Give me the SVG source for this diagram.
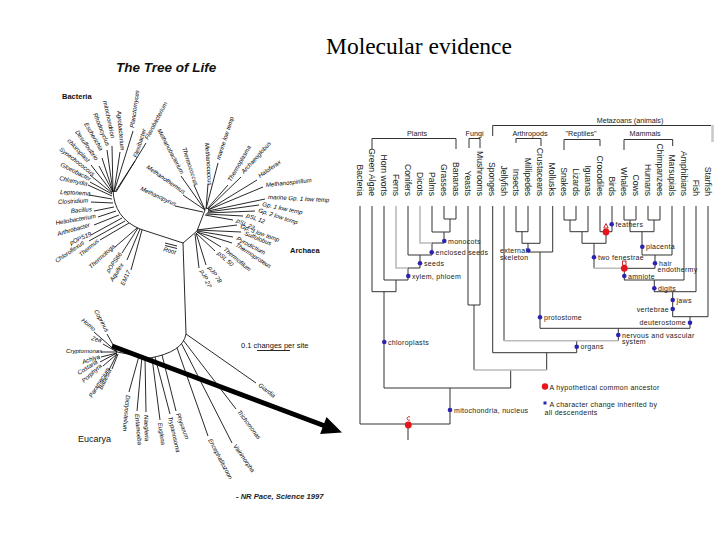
<svg xmlns="http://www.w3.org/2000/svg" width="720" height="540" viewBox="0 0 720 540">
<defs>
<style>
.ttl{font-family:"Liberation Serif","Times New Roman",serif;font-size:23.5px;fill:#000}
.lt{font-family:"Liberation Sans",Arial,sans-serif;font-size:6.1px;font-style:italic;fill:#000}
.lb{font-family:"Liberation Sans",Arial,sans-serif;font-size:7.5px;font-weight:bold;fill:#111}
.tl{stroke:#111;stroke-width:0.9;fill:none}
.cl{font-family:"Liberation Sans",Arial,sans-serif;font-size:8.6px;fill:#222;text-anchor:end}
.hd{font-family:"Liberation Sans",Arial,sans-serif;font-size:7.2px;fill:#222;text-anchor:middle}
.nl{font-family:"Liberation Sans",Arial,sans-serif;font-size:7px;fill:#222;letter-spacing:0.3px}
.k{stroke:#333;stroke-width:1;fill:none}
.g{stroke:#bbb;stroke-width:1.6;fill:none}
.bd{fill:#2a24b0}
.rd{fill:#e8141c}
</style>
</defs>
<rect width="720" height="540" fill="#fff"/>
<text x="419" y="54" text-anchor="middle" class="ttl">Molecular evidence</text>

<g id="tree-of-life">
<text x="116" y="72" font-family="Liberation Sans, Arial, sans-serif" font-size="13.5" font-weight="bold" font-style="italic" fill="#111">The Tree of Life</text>
<text x="62" y="99" class="lb">Bacteria</text>
<text x="290" y="253" class="lb">Archaea</text>
<text x="78" y="442" font-family="Liberation Sans, Arial, sans-serif" font-size="9" fill="#111">Eucarya</text>
<text x="241" y="348" font-family="Liberation Sans, Arial, sans-serif" font-size="7.5" fill="#111">0.1 changes per site</text>
<path d="M257,350.5 H290" class="tl"/>
<text x="236" y="499" font-family="Liberation Sans, Arial, sans-serif" font-size="7.6" font-style="italic" font-weight="bold" fill="#222">- NR Pace, Science 1997</text>

<path class="tl" d="M113,190 Q114,218 140,229 L183,243
M112,146 L113,192 M107,150 L113,192 M102,158 L113,192 M99,166 L113,192 M91,165 L112,192 M90,175 L112,193 M90,182 L112,194 M88,185 L112,196 M89,195 L112,199 M91,202 L113,203 M94,211 L114,207 M98,217 L116,211 M94,225 L119,215 M91,235 L122,218 M89,241 L125,221 M100,240 L129,223 M115,247 L137,228 M122,253 L138,228 M127,260 L140,229 M131,270 L142,230 M120,152 L114,192 M133,131 L114,192 M135,161 L115,192 M146,143 L116,192"/>
<text class="lt" transform="translate(103,101) rotate(78)">mitochondrion</text>
<text class="lt" transform="translate(93,114) rotate(68)">Rhodocyclus</text>
<text class="lt" transform="translate(84,124) rotate(60)">Escherichia</text>
<text class="lt" transform="translate(75,132) rotate(55)">Desulfovibrio</text>
<text class="lt" transform="translate(67,141) rotate(47)">chloroplast</text>
<text class="lt" transform="translate(59,150) rotate(38)">Synechococcus</text>
<text class="lt" transform="translate(60,166) rotate(27)">Gloeobacter</text>
<text class="lt" transform="translate(59,180) rotate(12)">Chlamydia</text>
<text class="lt" transform="translate(60,194) rotate(3)">Leptonema</text>
<text class="lt" transform="translate(58,204) rotate(-3)">Clostridium</text>
<text class="lt" transform="translate(71,213) rotate(-5)">Bacillus</text>
<text class="lt" transform="translate(56,225) rotate(-10)">Heliobacterium</text>
<text class="lt" transform="translate(58,236) rotate(-16)">Arthrobacter</text>
<text class="lt" transform="translate(71,245) rotate(-25)">pOPS19</text>
<text class="lt" transform="translate(57,263) rotate(-35)">Chloroflexus</text>
<text class="lt" transform="translate(81,257) rotate(-40)">Thermus</text>
<text class="lt" transform="translate(91,269) rotate(-42)">Thermotoga</text>
<text class="lt" transform="translate(109,273) rotate(-55)">pOPS66</text>
<text class="lt" transform="translate(113,282) rotate(-58)">Aquifex</text>
<text class="lt" transform="translate(124,286) rotate(-65)">EM17</text>
<text class="lt" transform="translate(117,111) rotate(85)">Agrobacterium</text>
<text class="lt" transform="translate(134,128) rotate(-82)">Planctomyces</text>
<text class="lt" transform="translate(137,158) rotate(-72)">Flexibacter</text>
<text class="lt" transform="translate(148,140) rotate(-62)">Flavobacterium</text>

<path class="tl" d="M183,243 L197,231 L205,210
M181,176 L205,210 M194,185 L205,210 M208,184 L206,209 M218,163 L206,209 M228,185 L207,209 M241,177 L208,209 M257,180 L208,210 M263,187 L208,210 M265,199 L208,211 M259,205 L208,212 M255,211 L207,213 M243,216 L206,214 M233,220 L205,215 M183,195 L205,210 M175,206 L203,212
M237,225 L197,230 M241,232 L197,230 M233,237 L197,231 M232,243 L197,232 M221,247 L197,232 M215,251 L196,233 M206,265 L196,233 M199,268 L195,234
M165,243 L177,246 M165,245.5 L177,248.5"/>
<text class="lt" transform="translate(157,130) rotate(62)">Methanobacterium</text>
<text class="lt" transform="translate(182,148) rotate(72)">Thermococcus</text>
<text class="lt" transform="translate(205,143) rotate(86)">Methanococcus</text>
<text class="lt" transform="translate(220,160) rotate(-72)">marine low temp</text>
<text class="lt" transform="translate(231,182) rotate(-60)">Thermoplasma</text>
<text class="lt" transform="translate(244,174) rotate(-48)">Archaeoglobus</text>
<text class="lt" transform="translate(260,178) rotate(-35)">Haloferax</text>
<text class="lt" transform="translate(266,187) rotate(-6)">Methanospirillum</text>
<text class="lt" transform="translate(268,199) rotate(3)">marine Gp. 1 low temp</text>
<text class="lt" transform="translate(262,206) rotate(12)">Gp. 1 low temp</text>
<text class="lt" transform="translate(258,212) rotate(18)">Gp. 2 low temp</text>
<text class="lt" transform="translate(246,217) rotate(20)">pSL 12</text>
<text class="lt" transform="translate(236,222) rotate(25)">pSL 22</text>
<text class="lt" transform="translate(240,228) rotate(20)">Gp. 3 low temp</text>
<text class="lt" transform="translate(244,235) rotate(22)">Sulfolobus</text>
<text class="lt" transform="translate(236,240) rotate(28)">Pyrodictium</text>
<text class="lt" transform="translate(235,246) rotate(33)">Thermoproteus</text>
<text class="lt" transform="translate(223,250) rotate(40)">Thermofilum</text>
<text class="lt" transform="translate(217,254) rotate(42)">pSL 50</text>
<text class="lt" transform="translate(208,268) rotate(55)">pJP 78</text>
<text class="lt" transform="translate(200,271) rotate(65)">pJP 27</text>
<text class="lt" transform="translate(146,168) rotate(35)">Methanothermus</text>
<text class="lt" transform="translate(140,190) rotate(25)">Methanopyrus</text>
<text class="lt" transform="translate(163,251) rotate(15)">Root</text>

<path class="tl" d="M183,243 L186,334 L256,383 M186,334 Q183,352 150,358 L117,352
M107,334 L117,352 M94,332 L117,352 M103,344 L117,352 M101,352 L117,352 M101,357 L117,353 M100,362 L117,353 M103,366 L117,354 M109,370 L117,354 M112,369 L118,354
M139,356 L129,392 M142,356.5 L137,411 M145,357 L146,412 M152,357.5 L160,420 M155,357 L170,414 M162,355 L176,411 M177,347.8 L208,436 M181.5,343.7 L232,443 M183.6,340.7 L236,409"/>
<text class="lt" transform="translate(94,311) rotate(62)">Coprinus</text>
<text class="lt" transform="translate(81,321) rotate(40)">Homo</text>
<text class="lt" transform="translate(91,340) rotate(15)">Zea</text>
<text class="lt" transform="translate(66,353)">Cryptomonas</text>
<text class="lt" transform="translate(83,364) rotate(-18)">Achlya</text>
<text class="lt" transform="translate(79,375) rotate(-32)">Costaria</text>
<text class="lt" transform="translate(84,383) rotate(-42)">Porphyra</text>
<text class="lt" transform="translate(92,398) rotate(-58)">Paramecium</text>
<text class="lt" transform="translate(102,390) rotate(-64)">Babesia</text>
<text class="lt" transform="translate(126,395) rotate(95)">Dictyostelium</text>
<text class="lt" transform="translate(135,414) rotate(85)">Entamoeba</text>
<text class="lt" transform="translate(144,415) rotate(88)">Naegleria</text>
<text class="lt" transform="translate(158,423) rotate(82)">Euglena</text>
<text class="lt" transform="translate(168,417) rotate(77)">Trypanosoma</text>
<text class="lt" transform="translate(176,414) rotate(70)">Physarum</text>
<text class="lt" transform="translate(208,440) rotate(62)">Encephalitozoon</text>
<text class="lt" transform="translate(233,446) rotate(55)">Vairimorpha</text>
<text class="lt" transform="translate(237,412) rotate(53)">Trichomonas</text>
<text class="lt" transform="translate(258,386) rotate(38)">Giardia</text>
</g>

<g id="cladogram">
<g id="headers">
<text x="417" y="136" class="hd">Plants</text>
<text x="474.5" y="136" class="hd">Fungi</text>
<text x="630" y="122.5" class="hd">Metazoans (animals)</text>
<text x="530" y="136" class="hd" font-size="6.6">Arthropods</text>
<text x="581" y="136" class="hd" font-size="6.6">"Reptiles"</text>
<text x="645" y="136" class="hd" font-size="6.6">Mammals</text>
<path class="k" d="M372,149 V138.5 H456 V149 M469,148 V138.5 H480 V148 M492.7,136 V125.5 H711 M516,143 V138.5 H541 V146 M564,150 V139.5 H600 V146 M624,150 V139.5 H672.7 V146"/>
<path d="M712.5,125 V142" stroke="#c8c8c8" stroke-width="2.5"/>
</g>
<g id="columns">
<text class="cl" transform="translate(357,196) rotate(90)">Bacteria</text>
<text class="cl" transform="translate(369,196) rotate(90)">Green Algae</text>
<text class="cl" transform="translate(381,196) rotate(90)">Horn worts</text>
<text class="cl" transform="translate(393,196) rotate(90)">Ferns</text>
<text class="cl" transform="translate(405,196) rotate(90)">Conifers</text>
<text class="cl" transform="translate(417,196) rotate(90)">Dicots</text>
<text class="cl" transform="translate(429,196) rotate(90)">Palms</text>
<text class="cl" transform="translate(441,196) rotate(90)">Grasses</text>
<text class="cl" transform="translate(453,196) rotate(90)">Bananas</text>
<text class="cl" transform="translate(465,196) rotate(90)">Yeasts</text>
<text class="cl" transform="translate(477,196) rotate(90)">Mushrooms</text>
<text class="cl" transform="translate(489,196) rotate(90)">Sponges</text>
<text class="cl" transform="translate(501,196) rotate(90)">Jellyfish</text>
<text class="cl" transform="translate(513,196) rotate(90)">Insects</text>
<text class="cl" transform="translate(525,196) rotate(90)">Millipedes</text>
<text class="cl" transform="translate(537,196) rotate(90)">Crustaceans</text>
<text class="cl" transform="translate(549,196) rotate(90)">Mollusks</text>
<text class="cl" transform="translate(561,196) rotate(90)">Snakes</text>
<text class="cl" transform="translate(573,196) rotate(90)">Lizards</text>
<text class="cl" transform="translate(585,196) rotate(90)">Iguanas</text>
<text class="cl" transform="translate(597,196) rotate(90)">Crocodiles</text>
<text class="cl" transform="translate(609,196) rotate(90)">Birds</text>
<text class="cl" transform="translate(621,196) rotate(90)">Whales</text>
<text class="cl" transform="translate(633,196) rotate(90)">Cows</text>
<text class="cl" transform="translate(645,196) rotate(90)">Humans</text>
<text class="cl" transform="translate(657,196) rotate(90)">Chimpanzees</text>
<text class="cl" transform="translate(669,196) rotate(90)">Marsupials</text>
<text class="cl" transform="translate(681,196) rotate(90)">Amphibians</text>
<text class="cl" transform="translate(693,196) rotate(90)">Fish</text>
<text class="cl" transform="translate(705,196) rotate(90)">Starfish</text>
</g>
<g id="branches">
<path class="k" d="M360,206 V424 H450 M408,424 V440
M372,206 V291.7 M384,206 V280 M408,206 V255 M432,206 V232 M444,206 V219 M456,206 V219
M444,219 H456 M450,219 V232 M432,232 H450 M444,232 V243 M432,243 H444 M432,243 V255 M408,255 H432 M420,255 V268 M408,268 H420 M408,268 V280 M384,280 H408 M396,280 V291.7 M372,291.7 H396 M384,291.7 V388 H510.7 M450,388 V424
M468,206 V305 M480,206 V305 M468,305 H480 M474,305 V370 M510.7,370 V388
M546.7,352.7 V370 M492.7,206 V352.7 H576.7 M576.7,340.7 V352.7 M504,206 V340.7 M618.3,328.3 V340.7 M540,328.3 H690
M516,206 V231.7 M528,206 V231.7 M516,231.7 H528 M522,231.7 V243.3 H540 M540,206 V243.3 M528,243.3 V252 M528,252 H552.7 M552.7,206 V252 M540,252 V328.3
M564,206 V220 M576,206 V220 M564,220 H576 M570,220 V231.7 M588,206 V231.7 M570,231.7 H588 M582,231.7 V243.3
M600,206 V231.7 M612,206 V231.7 M600,231.7 H612 M606,231.7 V243.3 M582,243.3 H606 M594,243.3 V268.3
M624,206 V220 M636,206 V220 M624,220 H636 M630,220 V231.7 M648,206 V220 M660,206 V220 M648,220 H660 M654,220 V231.7 M630,231.7 H654 M642,231.7 V255
M672,206 V255 M642,255 H672 M655,255 V268.3 M624,268.3 H655 M624.3,268.3 V280
M684,206 V280 M624,280 H684 M654.3,280 V291.7 M696,206 V291.7 M654,291.7 H696 M672.7,291.7 V316.7 M708,206 V316.7 M672.7,316.7 H708 M690,316.7 V328.3"/>
<path class="g" d="M396,206 V268 H408 M420,206 V243 H432 M474,370 H546.7 M504,340.7 H618.3 M594,268.3 H624"/>
</g>
<g id="characters">
<circle cx="444.3" cy="241" r="2.3" class="bd"/><text x="448" y="243.5" class="nl">monocots</text>
<circle cx="431.7" cy="252.3" r="2.3" class="bd"/><text x="435.5" y="255" class="nl">enclosed seeds</text>
<circle cx="420" cy="263.3" r="2.3" class="bd"/><text x="424" y="266" class="nl">seeds</text>
<circle cx="408.3" cy="276" r="2.3" class="bd"/><text x="412" y="278.5" class="nl">xylem, phloem</text>
<circle cx="384.3" cy="342" r="2.3" class="bd"/><text x="388" y="344.5" class="nl">chloroplasts</text>
<circle cx="450" cy="410" r="2.3" class="bd"/><text x="454" y="412.5" class="nl">mitochondria, nucleus</text>
<circle cx="528.3" cy="250.5" r="2.3" class="bd"/><text x="500" y="253" class="nl">external</text><text x="500" y="259.5" class="nl">skeleton</text>
<circle cx="611.7" cy="224.3" r="2.3" class="bd"/><text x="615.5" y="226.8" class="nl">feathers</text>
<circle cx="642.3" cy="246.7" r="2.3" class="bd"/><text x="646" y="249.2" class="nl">placenta</text>
<circle cx="594" cy="257.3" r="2.3" class="bd"/><text x="598" y="259.8" class="nl">two fenestrae</text>
<circle cx="655" cy="263.3" r="2.3" class="bd"/><text x="659" y="265.5" class="nl">hair</text><text x="657.5" y="272" class="nl">endothermy</text>
<circle cx="624.3" cy="276" r="2.3" class="bd"/><text x="628" y="278.5" class="nl">amniote</text>
<circle cx="654.3" cy="288.3" r="2.3" class="bd"/><text x="658" y="290.8" class="nl">digits</text>
<circle cx="672.7" cy="300" r="2.3" class="bd"/><text x="676.5" y="302.5" class="nl">jaws</text>
<circle cx="672.7" cy="309" r="2.3" class="bd"/><text x="669" y="311.5" class="nl" text-anchor="end">vertebrae</text>
<circle cx="690" cy="322.7" r="2.3" class="bd"/><text x="686" y="325.2" class="nl" text-anchor="end">deuterostome</text>
<circle cx="540" cy="317.3" r="2.3" class="bd"/><text x="544" y="319.8" class="nl">protostome</text>
<circle cx="618.3" cy="335" r="2.3" class="bd"/><text x="622" y="337.5" class="nl">nervous and vascular</text><text x="622" y="344" class="nl">system</text>
<circle cx="576.7" cy="346.7" r="2.3" class="bd"/><text x="580.5" y="349.2" class="nl">organs</text>
</g>
<g id="ancestors">
<circle cx="606" cy="232" r="3.4" class="rd"/><path d="M603.8,228 L606,223.5 L608.2,228 Z" fill="none" stroke="#c01018" stroke-width="0.9"/>
<circle cx="624.3" cy="268.3" r="3.4" class="rd"/><rect x="622.6" y="261" width="3.4" height="4.2" fill="none" stroke="#c01018" stroke-width="0.9"/>
<circle cx="408.3" cy="425" r="3.4" class="rd"/><path d="M410,417 A1.8,1.8 0 1 0 410,420" fill="none" stroke="#c01018" stroke-width="0.9"/>
</g>
<g id="legend">
<circle cx="545" cy="386.5" r="3.2" class="rd"/>
<text x="549.5" y="389.5" class="nl" font-size="7.2">A hypothetical common ancestor</text>
<rect x="543.5" y="401.5" width="3" height="3" class="bd"/>
<text x="549.5" y="406.5" class="nl" font-size="7.2">A character change inherited by</text>
<text x="544.5" y="415" class="nl" font-size="7.2">all descendents</text>
</g>
</g>

<g id="connectors">
<line x1="112" y1="346" x2="325" y2="426" stroke="#000" stroke-width="5"/>
<polygon points="342,432.5 326.5,417.1 320.1,433.9" fill="#000"/>
</g>
</svg>
